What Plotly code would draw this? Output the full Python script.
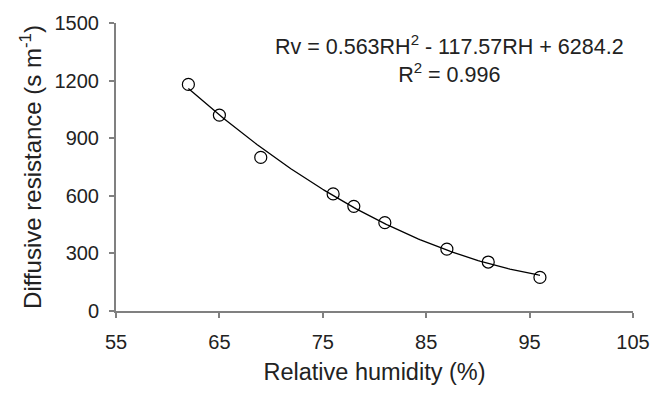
import numpy as np
import plotly.graph_objects as go

rh = [62, 65, 69, 76, 78, 81, 87, 91, 96]
rv = [1180, 1020, 800, 610, 545, 460, 322, 255, 175]
coef = [0.563, -117.57, 6284.2]  # fitted quadratic shown on chart
x_ticks = [55, 65, 75, 85, 95, 105]
y_ticks = [0, 300, 600, 900, 1200, 1500]

xf = np.linspace(min(rh), max(rh), 200)
yf = coef[0] * xf**2 + coef[1] * xf + coef[2]

font = "Liberation Sans, Arial, sans-serif"
fig = go.Figure()
fig.add_trace(go.Scatter(x=xf, y=yf, mode="lines",
                         line=dict(color="black", width=1.3), showlegend=False))
fig.add_trace(go.Scatter(x=rh, y=rv, mode="markers",
                         marker=dict(symbol="circle-open", size=12,
                                     color="black", line=dict(width=1.2)),
                         showlegend=False))

axis_common = dict(showgrid=False, zeroline=False, showline=True,
                   linecolor="#808080", linewidth=2, ticks="outside",
                   tickcolor="#808080", ticklen=5, tickwidth=1.5,
                   tickfont=dict(family=font, size=20, color="#222"))
fig.update_xaxes(range=[55, 105], tickvals=x_ticks, ticklabelstandoff=7,
                 title=dict(text="Relative humidity (%)",
                            font=dict(family=font, size=23.5, color="#222"),
                            standoff=12),
                 **axis_common)
fig.update_yaxes(range=[0, 1500], tickvals=y_ticks, ticklabelstandoff=6,
                 title=dict(text="Diffusive resistance (s m<sup>-1</sup>)",
                            font=dict(family=font, size=24, color="#222"),
                            standoff=6),
                 **axis_common)

fig.add_annotation(x=87.3, y=1315, xref="x", yref="y", showarrow=False,
                   text="Rv = 0.563RH<sup>2</sup> - 117.57RH + 6284.2<br>R<sup>2</sup> = 0.996",
                   font=dict(family=font, size=21.5, color="#222"),
                   align="center")

fig.update_layout(width=664, height=393,
                  margin=dict(l=116, r=31, t=20, b=80),
                  plot_bgcolor="white", paper_bgcolor="white")
fig.write_html("out.html")
